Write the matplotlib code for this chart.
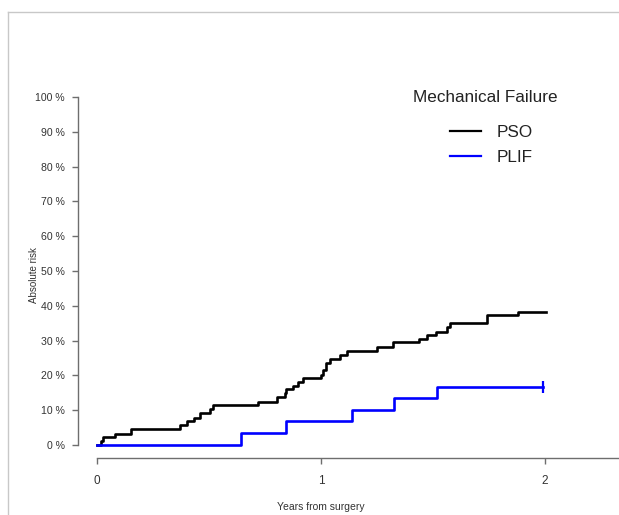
import numpy as np
import matplotlib.pyplot as plt
from matplotlib.lines import Line2D

plt.rcParams['font.family'] = ['Liberation Sans', 'DejaVu Sans']

# cumulative incidence (years, %)
pso_time = [0.018, 0.028, 0.08, 0.152, 0.371, 0.40, 0.434, 0.46, 0.504, 0.519,
            0.72, 0.805, 0.840, 0.845, 0.875, 0.897, 0.92, 1.0, 1.01, 1.023,
            1.04, 1.085, 1.117, 1.249, 1.32, 1.439, 1.474, 1.513, 1.564, 1.578,
            1.74, 1.881]
pso_risk = [1.1, 2.3, 3.3, 4.5, 5.7, 6.8, 7.9, 9.1, 10.3, 11.4,
            12.4, 13.7, 14.9, 16.0, 17.0, 18.2, 19.3, 20.2, 21.5, 23.5,
            24.7, 26.0, 27.1, 28.3, 29.5, 30.4, 31.6, 32.6, 33.8, 35.0,
            37.4, 38.3]
pso_end = 2.004

plif_time = [0.643, 0.844, 1.137, 1.327, 1.519]
plif_risk = [3.4, 6.8, 10.2, 13.4, 16.8]
plif_end = 1.99

groups = ['PSO', 'PLIF']
colors = ['black', 'blue']
xticks = [0, 1, 2]
yticks = list(range(0, 101, 10))

W, H = 619, 515
px = 72 / 100  # points per pixel at dpi 100
fig = plt.figure(figsize=(W / 100, H / 100), dpi=100)
ax = fig.add_axes([97 / W, 1 - 445 / H, (W - 97) / W, 348 / H])


def steps(t, r, end):
    x = np.r_[0, t, end]
    y = np.r_[0, r, r[-1]]
    return x, y


x, y = steps(pso_time, pso_risk, pso_end)
ax.step(x, y, where='post', color=colors[0], lw=1.9, label=groups[0], clip_on=False)
x, y = steps(plif_time, plif_risk, plif_end)
ax.step(x, y, where='post', color=colors[1], lw=1.9, label=groups[1], clip_on=False)
ax.plot([plif_end], [plif_risk[-1]], marker='|', ms=8, mew=1.6, color=colors[1], clip_on=False)

xmax = (W - 97) / 224
ax.set_xlim(0, xmax)
ax.set_ylim(0, 100)

for s in ['top', 'right']:
    ax.spines[s].set_visible(False)
axis_col = '#6e6e6e'
ax.spines['left'].set_position(('outward', 19 * px))
ax.spines['bottom'].set_position(('outward', 13 * px))
ax.spines['left'].set_bounds(0, 100)
ax.spines['bottom'].set_bounds(0, xmax)
for s in ['left', 'bottom']:
    ax.spines[s].set_color(axis_col)
    ax.spines[s].set_linewidth(1.0)

ax.set_xticks(xticks)
ax.set_xticklabels([str(v) for v in xticks])
ax.set_yticks(yticks)
ax.set_yticklabels([f'{v} %' for v in yticks])
ax.tick_params(axis='x', length=4.5, width=1.0, color=axis_col, labelsize=8.5,
               labelcolor='#333333', pad=8)
ax.tick_params(axis='y', length=4.5, width=1.0, color=axis_col, labelsize=7.6,
               labelcolor='#333333', pad=5)

ax.set_xlabel('Years from surgery', fontsize=7.5, color='#333333')
ax.xaxis.set_label_coords((321 - 97) / (W - 97), (445 - 502) / 348)
ax.set_ylabel('Absolute risk', fontsize=7, color='#333333')
ax.yaxis.set_label_coords((39 - 97) / (W - 97), (445 - 275) / 348)

fig.text(485 / W, 1 - 97 / H, 'Mechanical Failure', fontsize=12.3,
         color='#222222', ha='center', va='center')
leg = ax.legend(frameon=False, fontsize=12.3, handlelength=1.8, handletextpad=0.9,
                labelspacing=0.56, loc='upper left', borderpad=0, borderaxespad=0,
                bbox_to_anchor=(450 / W, 1 - 125 / H), bbox_transform=fig.transFigure)
for line in leg.get_lines():
    line.set_linewidth(1.6)
for t in leg.get_texts():
    t.set_color('#222222')

# light frame lines at top and left
fig.add_artist(Line2D([8 / W, 1], [1 - 12 / H, 1 - 12 / H], color='#c8c8c8', lw=1.0))
fig.add_artist(Line2D([8 / W, 8 / W], [0, 1 - 12 / H], color='#c8c8c8', lw=1.0))

fig.savefig('out.png', dpi=100)
